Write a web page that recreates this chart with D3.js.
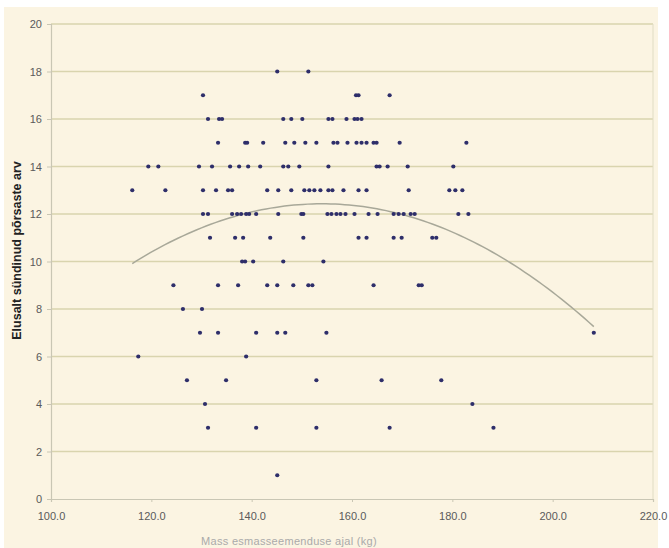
<!DOCTYPE html>
<html>
<head>
<meta charset="utf-8">
<script src="https://cdn.jsdelivr.net/npm/d3@7"></script>
<style>
  body { margin: 0; background: #ffffff; }
  svg { display: block; }
</style>
</head>
<body>
<svg id="chart" width="669" height="548"></svg>
<script>
// piglets born alive (y) and their mass at first insemination (x), per row of y
let row18 = [145.1, 151.3];
let row17 = [130.3, 160.8, 161.3, 167.5];
let row16 = [131.3, 133.5, 134.1, 146.3, 147.9, 150.1, 155.3, 156.1, 158.9, 160.5, 161.1, 161.9];
let row15 = [133.3, 138.7, 139.1, 142.3, 146.7, 148.5, 150.7, 152.9, 156.3, 157.1, 159.1, 160.9,
  161.9, 162.9, 164.3, 164.9, 169.5, 182.8];
let row14 = [119.4, 121.4, 129.5, 132.1, 135.7, 137.5, 139.3, 141.7, 146.3, 147.3, 149.5, 155.3,
  164.9, 165.5, 167.1, 171.1, 180.2];
let row13 = [116.2, 122.8, 130.3, 132.9, 135.3, 136.1, 143.1, 145.3, 147.9, 150.5, 151.5, 152.5,
  153.7, 155.3, 156.1, 158.3, 161.3, 162.9, 171.3, 179.4, 180.6, 182.0];
let row12 = [130.3, 131.3, 136.1, 137.1, 137.9, 138.9, 139.5, 140.9, 145.3, 149.9, 150.3, 155.1,
  155.9, 156.9, 157.7, 158.7, 160.5, 163.3, 165.1, 168.3, 169.3, 170.3, 171.7, 172.5, 181.2, 183.2];
let row11 = [131.7, 136.7, 138.3, 143.7, 150.3, 161.3, 162.9, 168.3, 169.9, 176.0, 176.8];
let row10 = [138.1, 138.7, 140.3, 146.3, 154.3];
let row9 = [124.4, 133.3, 137.3, 143.1, 145.1, 148.3, 151.3, 152.1, 164.3, 173.3, 173.9];
let row8 = [126.3, 130.1];
let row7 = [129.7, 133.3, 140.9, 145.1, 146.7, 154.9, 208.2];
let row6 = [117.4, 138.9];
let row5 = [127.1, 134.9, 152.9, 165.9, 177.8];
let row4 = [130.7, 184.0];
let row3 = [131.3, 140.9, 152.9, 167.5, 188.2];
let row1 = [145.1];

let rows = [
  { y: 18, xs: row18 }, { y: 17, xs: row17 }, { y: 16, xs: row16 }, { y: 15, xs: row15 },
  { y: 14, xs: row14 }, { y: 13, xs: row13 }, { y: 12, xs: row12 }, { y: 11, xs: row11 },
  { y: 10, xs: row10 }, { y: 9, xs: row9 }, { y: 8, xs: row8 }, { y: 7, xs: row7 },
  { y: 6, xs: row6 }, { y: 5, xs: row5 }, { y: 4, xs: row4 }, { y: 3, xs: row3 },
  { y: 1, xs: row1 }
];

// polynomial trendline: top value, top position, curvature
let trendTop = 12.43;
let trendTopX = 154;
let trendCurv = 0.00176;

let xTicks = [100, 120, 140, 160, 180, 200, 220];
let yTicks = [0, 2, 4, 6, 8, 10, 12, 14, 16, 18, 20];

let yTitle = "Elusalt sündinud põrsaste arv";
let xTitle = "Mass esmasseemenduse ajal (kg)";

let points = [];
rows.forEach(function(r) {
  r.xs.forEach(function(x) {
    points.push({ x: x, y: r.y });
  });
});

let svg = d3.select("#chart");
let margin = { left: 51, right: 16, top: 24, bottom: 49 };
let width = 669, height = 548;
let fontFamily = "Arial, 'Liberation Sans', sans-serif";

svg.append("rect")
  .attr("x", 4).attr("y", 7)
  .attr("width", 654).attr("height", 541)
  .attr("fill", "#fbf4e2");

let x = d3.scaleLinear().domain([100, 220]).range([margin.left, width - margin.right]);
let y = d3.scaleLinear().domain([0, 20]).range([height - margin.bottom, margin.top]);

// grid
svg.append("g")
  .selectAll("line")
  .data(yTicks.slice(1))
  .enter()
  .append("line")
  .attr("x1", x(100)).attr("x2", x(220))
  .attr("y1", function(d) { return y(d); })
  .attr("y2", function(d) { return y(d); })
  .attr("stroke", "#d9d4ae")
  .attr("stroke-width", 1.3);

// plot frame, right side
svg.append("line")
  .attr("x1", x(220)).attr("x2", x(220))
  .attr("y1", y(20)).attr("y2", y(0))
  .attr("stroke", "#e0dcc4");

let xAxis = d3.axisBottom(x).tickValues(xTicks).tickFormat(d3.format(".1f")).tickSize(3).tickPadding(10);
let yAxis = d3.axisLeft(y).tickValues(yTicks).tickSize(4).tickPadding(5);

let gx = svg.append("g").attr("transform", "translate(0," + y(0) + ")").call(xAxis);
let gy = svg.append("g").attr("transform", "translate(" + x(100) + ",0)").call(yAxis);

[gx, gy].forEach(function(g) {
  g.select(".domain").attr("stroke", "#c9c6b4").attr("stroke-width", 1.2);
  g.selectAll(".tick line").attr("stroke", "#c9c6b4");
  g.selectAll(".tick text")
    .attr("fill", "#5a5a5a")
    .style("font-family", fontFamily)
    .style("font-size", "11px");
});

// trend curve, drawn over the range of the points
let xMin = d3.min(points, function(d) { return d.x; });
let xMax = d3.max(points, function(d) { return d.x; });
let curve = d3.range(0, 101).map(function(i) {
  let v = xMin + (xMax - xMin) * i / 100;
  return { x: v, y: trendTop - trendCurv * (v - trendTopX) * (v - trendTopX) };
});

svg.append("path")
  .datum(curve)
  .attr("fill", "none")
  .attr("stroke", "#a8a899")
  .attr("stroke-width", 1.5)
  .attr("d", d3.line()
    .x(function(d) { return x(d.x); })
    .y(function(d) { return y(d.y); }));

// points
svg.append("g")
  .selectAll("circle")
  .data(points)
  .enter()
  .append("circle")
  .attr("cx", function(d) { return x(d.x); })
  .attr("cy", function(d) { return y(d.y); })
  .attr("r", 2.1)
  .attr("fill", "#2e2e6a");

// titles
svg.append("text")
  .text(yTitle)
  .attr("transform", "translate(21," + (y(10) - 11) + ") rotate(-90)")
  .attr("text-anchor", "middle")
  .attr("fill", "#222")
  .style("font-family", fontFamily)
  .style("font-size", "12.5px")
  .style("font-weight", "bold");

svg.append("text")
  .text(xTitle)
  .attr("x", 289)
  .attr("y", 545)
  .attr("text-anchor", "middle")
  .attr("fill", "#aaaaaa")
  .style("font-family", fontFamily)
  .style("font-size", "11px")
  .style("letter-spacing", "0.3px");
</script>
</body>
</html>
